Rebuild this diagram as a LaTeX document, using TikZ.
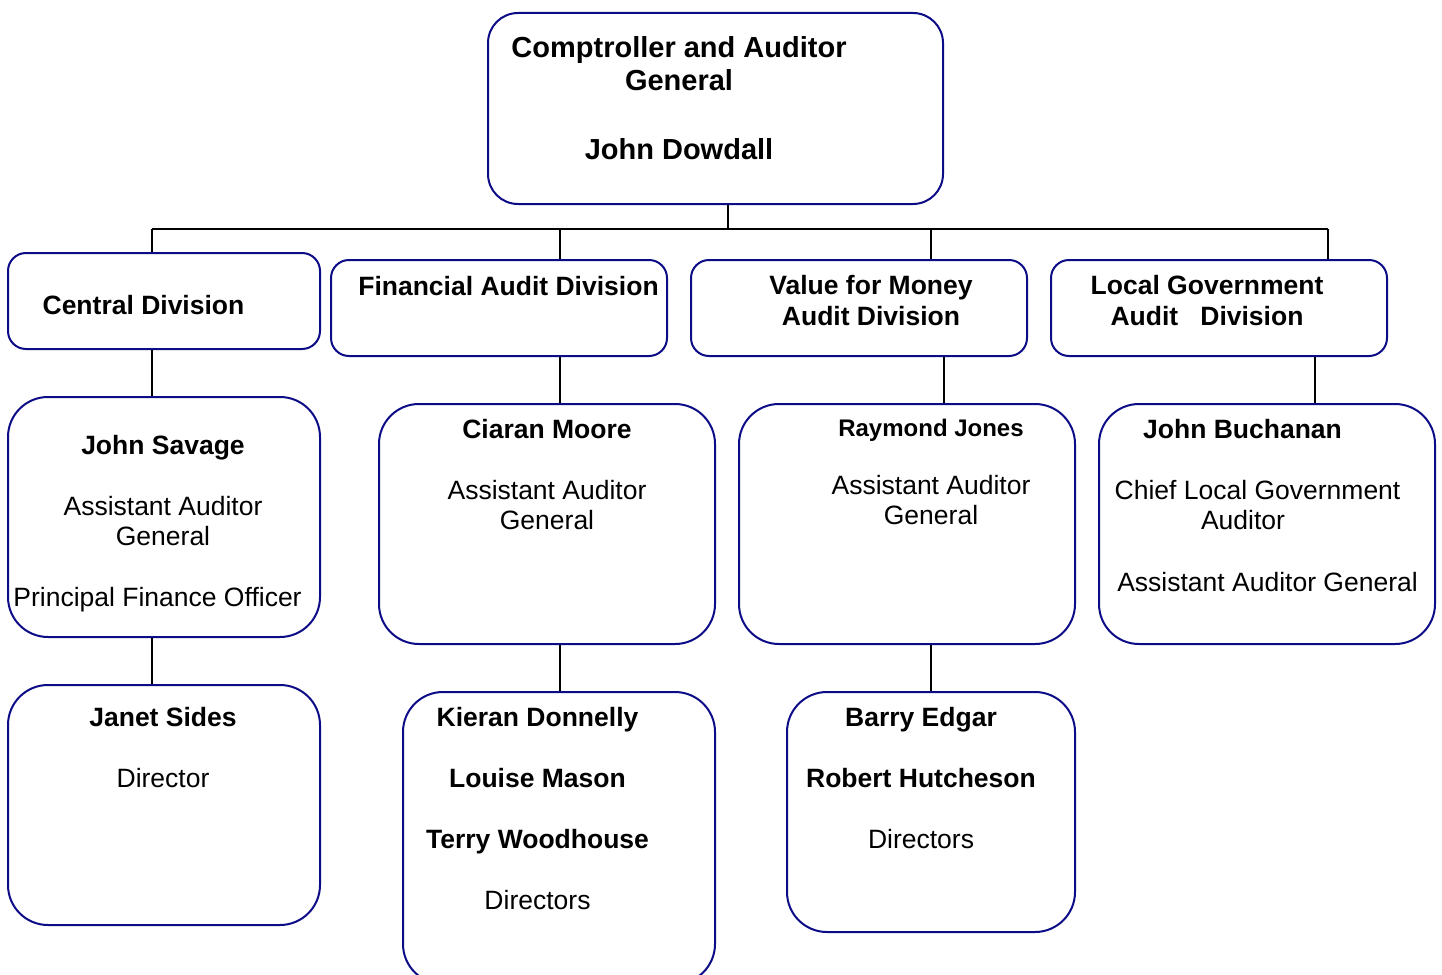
\documentclass[tikz,border=0pt]{standalone}
\usepackage{fontspec}
\setmainfont{Liberation Sans}
\definecolor{boxline}{RGB}{12,12,135}
\begin{document}
\begin{tikzpicture}[x=1pt, y=-1pt,
  unit/.style={draw=boxline, line width=2pt, rounded corners=18pt, inner sep=0pt},
  post/.style={draw=boxline, line width=2pt, rounded corners=40pt, inner sep=0pt},
  txt/.style={anchor=north, align=center, inner sep=0pt, font=\fontsize{26.5}{30.5}\selectfont},
  link/.style={line width=2pt}]
\useasboundingbox (0,0) rectangle (1442,974);
\node[draw=boxline, line width=2pt, rounded corners=30pt, minimum width=455pt, minimum height=191pt] (cag) at (715.5,108.5) {};
\node[unit, minimum width=312pt, minimum height=96pt] (cen) at (164,301) {};
\foreach \n/\x in {fin/499, vfm/859, lga/1219}
\node[unit, minimum width=336pt, minimum height=96pt] (\n) at (\x,308) {};
\node[post, minimum width=312pt, minimum height=240pt] (sav) at (164,517) {};
\foreach \n/\x in {moo/547, jon/907, buc/1267}
\node[post, minimum width=336pt, minimum height=240pt] (\n) at (\x,524) {};
\node[post, minimum width=312pt, minimum height=240pt] (sid) at (164,805) {};
\node[post, minimum width=312pt, minimum height=292pt] (don) at (559,838) {};
\node[post, minimum width=288pt, minimum height=240pt] (edg) at (931,812) {};
\coordinate (bus) at (728,229);
\draw[link] (cag.south -| bus) -- (bus);
\draw[link] (bus -| 152,0) -- (bus -| 1328,0);
\foreach \n/\x in {cen/152, fin/560, vfm/931, lga/1328}
\draw[link] (bus -| \x,0) -- (\n.north -| \x,0);
\foreach \a/\b/\x in {cen/sav/152, fin/moo/560, vfm/jon/944, lga/buc/1315, sav/sid/152, moo/don/560, jon/edg/931}
\draw[link] (\a.south -| \x,0) -- (\b.north -| \x,0);
\node[txt, font=\fontsize{29}{33}\selectfont\bfseries] (cagt) at (679,36.5) {Comptroller and Auditor\\General\\[36pt]John Dowdall};
\node[txt, font=\fontsize{26.5}{31}\selectfont\bfseries] (cent) at (143.5,295) {Central Division};
\node[txt, font=\fontsize{26.5}{31}\selectfont\bfseries] (fint) at (508.5,276) {Financial Audit Division};
\node[txt, font=\fontsize{26.5}{31}\selectfont\bfseries] (vfmt) at (871,275) {Value for Money\\Audit Division};
\node[txt, font=\fontsize{26.5}{31}\selectfont\bfseries] (lgat) at (1207,275) {Local Government\\Audit\ \ \ Division};
\node[txt] (savt) at (157.5,435) {\hspace*{11pt}\textbf{John Savage}\\[30.5pt]\hspace*{11pt}Assistant Auditor\\\hspace*{11pt}General\\[30.5pt]Principal Finance Officer};
\node[txt] (moot) at (547,419) {\textbf{Ciaran Moore}\\[30.5pt]Assistant Auditor\\General};
\node[txt] (jont) at (931,418.5) {{\fontsize{24}{30.5}\selectfont\bfseries Raymond Jones}\\[27.5pt]Assistant Auditor\\General};
\node[txt] (buct) at (1267.5,419) {\textbf{John Buchanan}\hbox to 50pt{}\\[30.5pt]Chief Local Government\hbox to 20pt{}\\Auditor\hbox to 49pt{}\\[31pt]Assistant Auditor General};
\node[txt] (sidt) at (163,707) {\textbf{Janet Sides}\\[30.5pt]Director};
\node[txt] (dont) at (537.5,707) {\textbf{Kieran Donnelly}\\[30.5pt]\textbf{Louise Mason}\\[30.5pt]\textbf{Terry Woodhouse}\\[30.5pt]Directors};
\node[txt] (edgt) at (921,707) {\textbf{Barry Edgar}\\[30.5pt]\textbf{Robert Hutcheson}\\[30.5pt]Directors};
\end{tikzpicture}
\end{document}
